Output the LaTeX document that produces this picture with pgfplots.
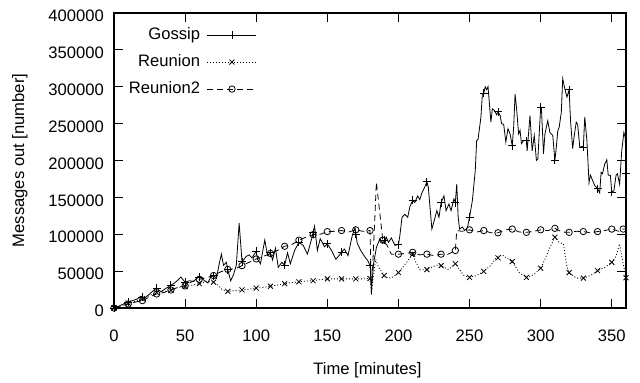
\documentclass[border=0pt]{standalone}
\usepackage{fontspec}
\setmainfont{Liberation Sans}
\usepackage{pgfplots}
\pgfplotsset{compat=1.18}
\pgfplotstableread{
t v
0 0
3 2000
6 5000
10 8000
13 10000
16 12000
19 16000
20 15000
22 14000
25 19000
28 24000
30 27000
33 22000
36 26000
40 31000
42 33000
45 38000
47 42000
50 35000
53 37000
56 36000
58 40000
60 42000
63 38000
66 34000
68 42000
70 44000
72 40000
74 60000
75.5 73000
77 58000
79 62000
80 52000
82 37000
84 45000
86 58000
88 115000
90 63000
91 65000
93 70000
95 72000
97 68000
100 77000
101 66000
103 60000
106 92000
108 71000
110 75000
111.5 65000
113.5 81000
115.5 55000
118 62000
120 58000
122 75000
124 60000
127 78000
130 89000
133 85000
136 73000
139 94000
141 111000
143 78000
145 94000
148 83000
150 87000
153 78000
156 66000
159 73000
162 80000
164.5 71000
167.5 98000
169.5 109000
171 88000
173.5 78000
176.5 69000
178.5 64000
180 58000
181 25000
182.5 60000
184.5 82000
187 94000
189 88000
191.5 96000
193 89000
195 95000
197.5 85000
200 86000
201 98000
202.5 123000
204.5 127000
206.5 123000
208 137000
210 146000
211.5 143000
213.5 152000
215 147000
216.5 156000
218.5 164000
220 171000
221 164000
223.5 107000
225.5 121000
227 132000
228.5 123000
230 143000
232 152000
233.5 132000
235.5 141000
237 132000
239 148000
240 143000
241 168000
242 123000
243 107000
245 110000
246.5 105000
248.5 109000
250 123000
252 146000
254 186000
255 227000
256 229000
258 259000
259 290000
260 291000
261 300000
262 296000
263 300000
265 252000
266 270000
267.5 268000
269 262000
270 266000
271.5 261000
272.5 250000
274 249000
275.5 225000
277 243000
278.5 236000
280 220000
281 245000
282 290000
283 272000
284.5 236000
285.5 241000
286.5 223000
288 227000
290 227000
290.5 213000
292.5 261000
294 213000
295.5 234000
297 200000
298 202000
300 272000
300.5 272000
302 209000
303 236000
305 254000
306.5 238000
308.5 234000
310 200000
311 218000
312 240000
313 245000
314.5 265000
315.5 311000
317 297000
318.5 286000
320 296000
321 254000
322.5 216000
323.5 232000
325 252000
326 249000
327.5 218000
329 219000
330 218000
331 259000
332.5 227000
334 170000
335 180000
336.5 173000
338 166000
340 162000
341.5 156000
342.5 184000
343.5 182000
345 195000
346.5 201000
347.5 180000
349 180000
350 157000
351.5 159000
353 180000
354 182000
355.5 168000
357 213000
358.5 238000
359.5 231000
360 182000
}\gossip
\pgfplotstableread{
t v
0 0
10 8000
20 15000
30 27000
40 31000
50 35000
60 42000
70 44000
80 52000
90 63000
100 77000
110 75000
120 58000
130 89000
140 102000
150 87000
160 76000
170 100000
180 58000
190 92000
200 86000
210 146000
220 171000
230 143000
240 143000
250 123000
260 291000
270 266000
280 220000
290 227000
300 272000
310 200000
320 296000
330 218000
340 162000
350 157000
360 182000
}\gossipmarks
\pgfplotstableread{
t v
0 0
5 3000
10 6500
15 9000
20 12500
25 17000
30 21000
35 22000
40 24000
45 28000
50 29000
55 31000
60 33000
65 36000
70 35000
73 31000
76 25000
80 22500
85 23500
90 24500
95 25500
100 27000
105 28000
110 29500
115 31000
120 33000
125 34500
130 35500
135 36500
140 37000
145 38500
150 39500
155 39500
160 39500
165 39500
170 39500
175 39500
180 40000
181 21000
182.5 45000
184 66000
186 55000
190 44000
193 40500
196 42000
200 48000
205 60000
210 73000
212 63000
215 52000
220 52000
224 56000
227 58000
230 57500
235 52000
240 60000
243 52000
246 44000
250 41500
255 44000
260 49700
265 58000
269 68700
273 72000
276 68000
280 63000
285 48000
290 41500
295 45000
300 54000
303 66000
306 80000
310 96000
313 89000
316 87000
318.5 55000
320 48000
325 40500
330 40500
335 44000
340 50600
345 55000
350 62000
353 70000
355.5 87000
357 70000
360 41000
}\reunion
\pgfplotstableread{
t v
0 0
10 6500
20 12500
30 21000
40 24000
50 29000
60 33000
70 35000
80 22500
90 24500
100 27000
110 29500
120 33000
130 35500
140 37000
150 39500
160 39500
170 39500
180 40000
190 44000
200 48000
210 73000
220 52000
230 57500
240 60000
250 41500
260 49700
270 68000
280 63000
290 41500
300 54000
310 96000
320 48000
330 40500
340 50600
350 62000
360 41000
}\reunionmarks
\pgfplotstableread{
t v
0 0
5 3000
10 5400
15 8000
20 10000
25 15000
30 19000
35 21000
40 24400
45 28000
50 30000
55 36000
60 39000
65 41000
70 44000
75 49000
80 52400
85 53000
90 57400
95 62000
100 66500
105 70000
110 74000
115 78000
120 83700
125 86000
130 92000
135 96000
140 99500
145 100000
150 103600
155 104000
160 105000
165 103000
170 106000
175 104000
180 105000
181 18000
184.5 170500
189 92000
192 85000
195 73000
200 73000
205 74000
210 75500
215 72000
220 73000
225 71000
230 73000
235 73000
240 78000
241 105000
245 104000
250 106000
255 103000
260 105000
265 102000
270 102000
275 106000
280 107000
285 103000
290 102600
295 104000
300 106000
305 105000
310 108000
315 103000
320 102600
325 104000
330 103600
335 102000
340 103600
345 105000
350 107000
355 104000
358 107000
360 107000
}\reuniontwo
\pgfplotstableread{
t v
0 0
10 5400
20 10000
30 19000
40 24400
50 30000
60 39000
70 44000
80 52400
90 57400
100 66500
110 74000
120 83700
130 92000
140 99500
150 103600
160 105000
170 106000
180 105000
189 92000
200 73000
210 75500
220 73000
230 73000
240 78000
250 106000
260 105000
270 102000
280 107000
290 102600
300 106000
310 108000
320 102600
330 103600
340 103600
350 107000
358 107000
}\reuniontwomarks
\begin{document}
\fontsize{16.6bp}{20bp}\selectfont
\begin{tikzpicture}
\path[use as bounding box] (-114bp,-75bp) rectangle (526bp,308bp);
\begin{axis}[
  at={(0,0)}, anchor=south west,
  scale only axis, width=512bp, height=295bp,
  xmin=0, xmax=360, ymin=0, ymax=400000,
  xtick={0,50,...,350}, ytick={0,50000,...,400000},
  scaled y ticks=false,
  /pgf/number format/assume math mode=true,
  yticklabel style={/pgf/number format/fixed, /pgf/number format/1000 sep={}, xshift=-4.5bp, yshift=-3bp},
  xticklabel style={yshift=-16bp},
  tick align=inside, major tick length=9bp,
  tick style={black, line width=0.9bp},
  axis line style={line width=1.2bp},
  xlabel={Time [minutes]}, ylabel={Messages out [number]},
  xlabel style={at={(axis description cs:0.495,-0.21)}, anchor=center},
  ylabel style={at={(axis description cs:-0.184,0.5)}, anchor=center},
  legend cell align=right, legend plot pos=right,
  legend style={draw=none, fill=none, inner sep=0pt, outer sep=0pt,
    at={(axis description cs:0.279,0.954)}, anchor=north east,
    nodes={inner sep=1bp, text height=12bp, text depth=3bp},
    row sep=10bp, column sep=6bp},
  legend image code/.code={\draw[mark repeat=2,mark phase=2,#1] plot coordinates {(0bp,0bp) (24.5bp,0bp) (49bp,0bp)};},
]
\addlegendimage{black, line width=0.8bp, mark=+, mark size=4bp, mark options={solid}}
\addlegendentry{Gossip}
\addlegendimage{black, line width=0.8bp, dash pattern=on 1bp off 2bp, mark=x, mark size=3.5bp, mark options={solid}}
\addlegendentry{Reunion}
\addlegendimage{black, line width=0.8bp, dash pattern=on 6bp off 4bp, mark=o, mark size=3.2bp, mark options={solid}}
\addlegendentry{Reunion2}
\addplot[forget plot, black, line width=0.8bp, dash pattern=on 6bp off 4bp] table[x=t,y=v] {\reuniontwo};
\addplot[forget plot, only marks, black, line width=0.8bp, mark=o, mark size=3.2bp] table[x=t,y=v] {\reuniontwomarks};
\addplot[forget plot, black, line width=0.8bp, dash pattern=on 1bp off 2bp] table[x=t,y=v] {\reunion};
\addplot[forget plot, only marks, black, line width=0.8bp, mark=x, mark size=3.5bp] table[x=t,y=v] {\reunionmarks};
\addplot[forget plot, black, line width=0.8bp] table[x=t,y=v] {\gossip};
\addplot[forget plot, only marks, black, line width=0.8bp, mark=+, mark size=4bp] table[x=t,y=v] {\gossipmarks};
\end{axis}
\end{tikzpicture}
\end{document}
